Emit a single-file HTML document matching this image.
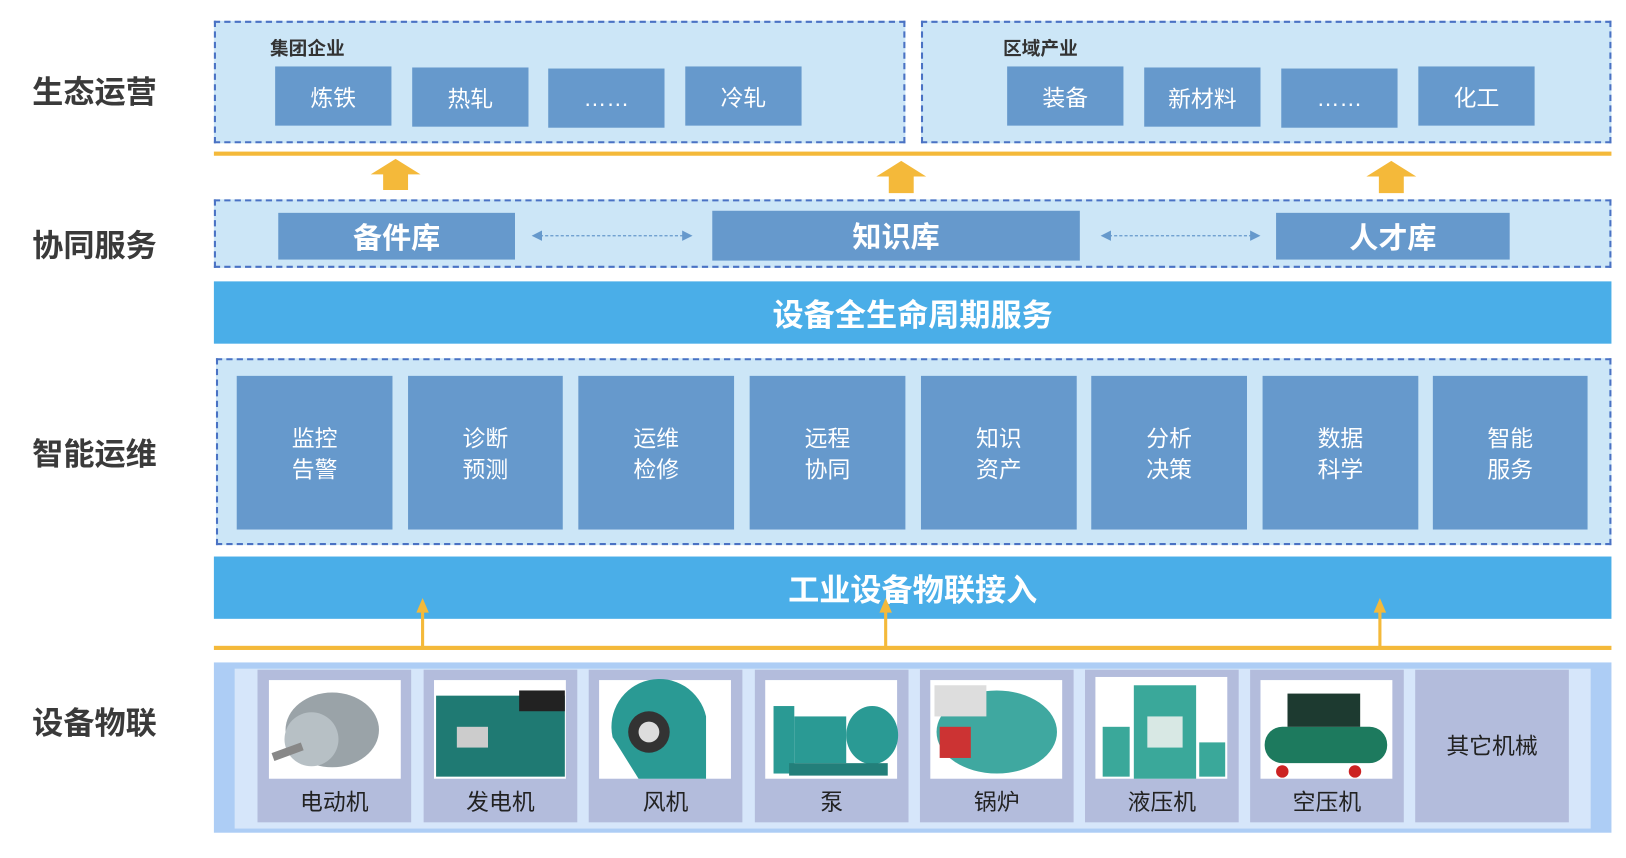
<!DOCTYPE html>
<html><head><meta charset="utf-8"><style>
html,body{margin:0;padding:0;background:#fff;width:1626px;height:858px;overflow:hidden}
#w{position:absolute;left:0;top:0;width:1566px;height:826px;transform:scale(1.0383);transform-origin:0 0;font-family:"Liberation Sans","Noto Sans CJK SC",sans-serif}
.a{position:absolute;box-sizing:border-box}
.lab{font-size:30px;font-weight:bold;color:#3a3a3a;left:24px;width:134px;text-align:center}
.dash{border:2px dashed #4a72c4;background:#cce6f7}
.b{background:#6699cc;color:#fff;display:flex;align-items:center;justify-content:center;font-size:22px}
.bar{background:#4aaee8;color:#fff;font-weight:bold;font-size:30px;display:flex;align-items:center;justify-content:center}
.or{background:#f4b93a}
.m{background:#6699cc;color:#fff;font-size:22px;display:flex;align-items:center;justify-content:center;text-align:center;line-height:30px;padding-top:4px}
.card{background:#b3bcdc}
.img{background:#fff}
.cl{font-size:22px;color:#222;text-align:center}
</style></head><body><div id="w">
<div class="a lab" style="top:64px">生态运营</div>
<div class="a lab" style="top:212px">协同服务</div>
<div class="a lab" style="top:413px">智能运维</div>
<div class="a lab" style="top:672px">设备物联</div>

<div class="a dash" style="left:206px;top:20px;width:666px;height:118px"></div>
<div class="a" style="left:260px;top:33px;font-size:18px;font-weight:bold;color:#333">集团企业</div>
<div class="a b" style="left:265px;top:64px;width:112px;height:57px">炼铁</div>
<div class="a b" style="left:397px;top:65px;width:112px;height:57px">热轧</div>
<div class="a b" style="left:528px;top:66px;width:112px;height:57px">……</div>
<div class="a b" style="left:660px;top:64px;width:112px;height:57px">冷轧</div>

<div class="a dash" style="left:887px;top:20px;width:665px;height:118px"></div>
<div class="a" style="left:966px;top:33px;font-size:18px;font-weight:bold;color:#333">区域产业</div>
<div class="a b" style="left:970px;top:64px;width:112px;height:57px">装备</div>
<div class="a b" style="left:1102px;top:65px;width:112px;height:57px">新材料</div>
<div class="a b" style="left:1234px;top:66px;width:112px;height:57px">……</div>
<div class="a b" style="left:1366px;top:64px;width:112px;height:57px">化工</div>

<div class="a or" style="left:206px;top:146px;width:1346px;height:4px"></div>
<svg class="a" style="left:0;top:0" width="1566" height="826">
<g fill="#f4b93a">
<polygon points="381,153 405,168 393,168 393,183 369,183 369,168 357,168"/>
<polygon points="868,155 892,170 880,170 880,186 856,186 856,170 844,170"/>
<polygon points="1340,155 1364,170 1352,170 1352,186 1328,186 1328,170 1316,170"/>
</g>
</svg>

<div class="a dash" style="left:206px;top:192px;width:1346px;height:66px"></div>
<div class="a b" style="left:268px;top:205px;width:228px;height:45px;font-size:28px;font-weight:bold">备件库</div>
<div class="a b" style="left:686px;top:203px;width:354px;height:48px;font-size:28px;font-weight:bold">知识库</div>
<div class="a b" style="left:1229px;top:205px;width:225px;height:45px;font-size:28px;font-weight:bold">人才库</div>
<svg class="a" style="left:0;top:0" width="1566" height="826">
<g stroke="#6699cc" stroke-width="1.2" stroke-dasharray="3,2"><line x1="520" y1="227" x2="658" y2="227"/><line x1="1068" y1="227" x2="1206" y2="227"/></g>
<g fill="#6699cc"><polygon points="512,227 522,222 522,232"/><polygon points="667,227 657,222 657,232"/><polygon points="1060,227 1070,222 1070,232"/><polygon points="1214,227 1204,222 1204,232"/></g>
</svg>

<div class="a bar" style="left:206px;top:271px;width:1346px;height:60px">设备全生命周期服务</div>

<div class="a dash" style="left:208px;top:345px;width:1344px;height:180px"></div>
<div class="a m" style="left:228px;top:362px;width:150px;height:148px">监控<br>告警</div>
<div class="a m" style="left:393px;top:362px;width:149px;height:148px">诊断<br>预测</div>
<div class="a m" style="left:557px;top:362px;width:150px;height:148px">运维<br>检修</div>
<div class="a m" style="left:722px;top:362px;width:150px;height:148px">远程<br>协同</div>
<div class="a m" style="left:887px;top:362px;width:150px;height:148px">知识<br>资产</div>
<div class="a m" style="left:1051px;top:362px;width:150px;height:148px">分析<br>决策</div>
<div class="a m" style="left:1216px;top:362px;width:150px;height:148px">数据<br>科学</div>
<div class="a m" style="left:1380px;top:362px;width:149px;height:148px">智能<br>服务</div>

<div class="a bar" style="left:206px;top:536px;width:1346px;height:60px">工业设备物联接入</div>
<div class="a or" style="left:206px;top:622px;width:1346px;height:4px"></div>
<svg class="a" style="left:0;top:0" width="1566" height="826">
<g stroke="#f4b93a" stroke-width="3"><line x1="407" y1="624" x2="407" y2="586"/><line x1="853" y1="624" x2="853" y2="586"/><line x1="1329" y1="624" x2="1329" y2="586"/></g>
<g fill="#f4b93a"><polygon points="407,576 401,590 413,590"/><polygon points="853,576 847,590 859,590"/><polygon points="1329,576 1323,590 1335,590"/></g>
</svg>

<div class="a" style="left:206px;top:638px;width:1346px;height:164px;background:#adcdf5"></div>
<div class="a" style="left:226px;top:644px;width:1306px;height:154px;background:#d6e6fa"></div>

<div class="a card" style="left:248px;top:645px;width:148px;height:147px"></div>
<div class="a card" style="left:408px;top:645px;width:148px;height:147px"></div>
<div class="a card" style="left:567px;top:645px;width:148px;height:147px"></div>
<div class="a card" style="left:727px;top:645px;width:148px;height:147px"></div>
<div class="a card" style="left:886px;top:645px;width:148px;height:147px"></div>
<div class="a card" style="left:1045px;top:645px;width:148px;height:147px"></div>
<div class="a card" style="left:1204px;top:645px;width:148px;height:147px"></div>
<div class="a card" style="left:1363px;top:645px;width:148px;height:147px"></div>

<svg class="a" style="left:0;top:0" width="1566" height="826">
<g fill="#fff">
<rect x="259" y="655" width="127" height="95"/><rect x="418" y="655" width="127" height="95"/><rect x="577" y="655" width="127" height="95"/><rect x="737" y="655" width="127" height="95"/><rect x="896" y="655" width="127" height="95"/><rect x="1055" y="652" width="127" height="98"/><rect x="1214" y="655" width="127" height="95"/>
</g>
<ellipse cx="320" cy="703" rx="45" ry="36" fill="#9aa3a8"/><ellipse cx="300" cy="712" rx="26" ry="26" fill="#b7c0c5"/><rect x="262" y="720" width="30" height="8" fill="#888" transform="rotate(-20 277 724)"/>
<rect x="420" y="670" width="124" height="78" fill="#1f7a73"/><rect x="500" y="665" width="44" height="20" fill="#222"/><rect x="440" y="700" width="30" height="20" fill="#ccc"/>
<path d="M590 710 A40 40 0 1 1 680 690 L680 750 L615 750 Z" fill="#2a9a94"/><circle cx="625" cy="705" r="20" fill="#333"/><circle cx="625" cy="705" r="10" fill="#ddd"/>
<rect x="745" y="680" width="20" height="65" fill="#2a9a94"/><rect x="765" y="690" width="50" height="45" fill="#2a9a94"/><ellipse cx="840" cy="708" rx="25" ry="28" fill="#2a9a94"/><rect x="760" y="735" width="95" height="12" fill="#237f7a"/>
<ellipse cx="960" cy="705" rx="58" ry="40" fill="#3fa8a0"/><rect x="905" y="700" width="30" height="30" fill="#c33"/><rect x="900" y="660" width="50" height="30" fill="#ddd"/>
<rect x="1092" y="660" width="60" height="90" fill="#3aa89a"/><rect x="1105" y="690" width="34" height="30" fill="#d8e8e4"/><rect x="1062" y="700" width="26" height="48" fill="#3aa89a"/><rect x="1155" y="715" width="25" height="33" fill="#3aa89a"/>
<rect x="1218" y="700" width="118" height="35" rx="17" fill="#1d7a5e"/><rect x="1240" y="668" width="70" height="32" fill="#1d3a30"/><circle cx="1235" cy="743" r="6" fill="#c22"/><circle cx="1305" cy="743" r="6" fill="#c22"/>
</svg>
<div class="a cl" style="left:248px;top:755px;width:148px">电动机</div>
<div class="a cl" style="left:408px;top:755px;width:148px">发电机</div>
<div class="a cl" style="left:567px;top:755px;width:148px">风机</div>
<div class="a cl" style="left:727px;top:755px;width:148px">泵</div>
<div class="a cl" style="left:886px;top:755px;width:148px">锅炉</div>
<div class="a cl" style="left:1045px;top:755px;width:148px">液压机</div>
<div class="a cl" style="left:1204px;top:755px;width:148px">空压机</div>
<div class="a cl" style="left:1363px;top:701px;width:148px">其它机械</div>
</div></body></html>
